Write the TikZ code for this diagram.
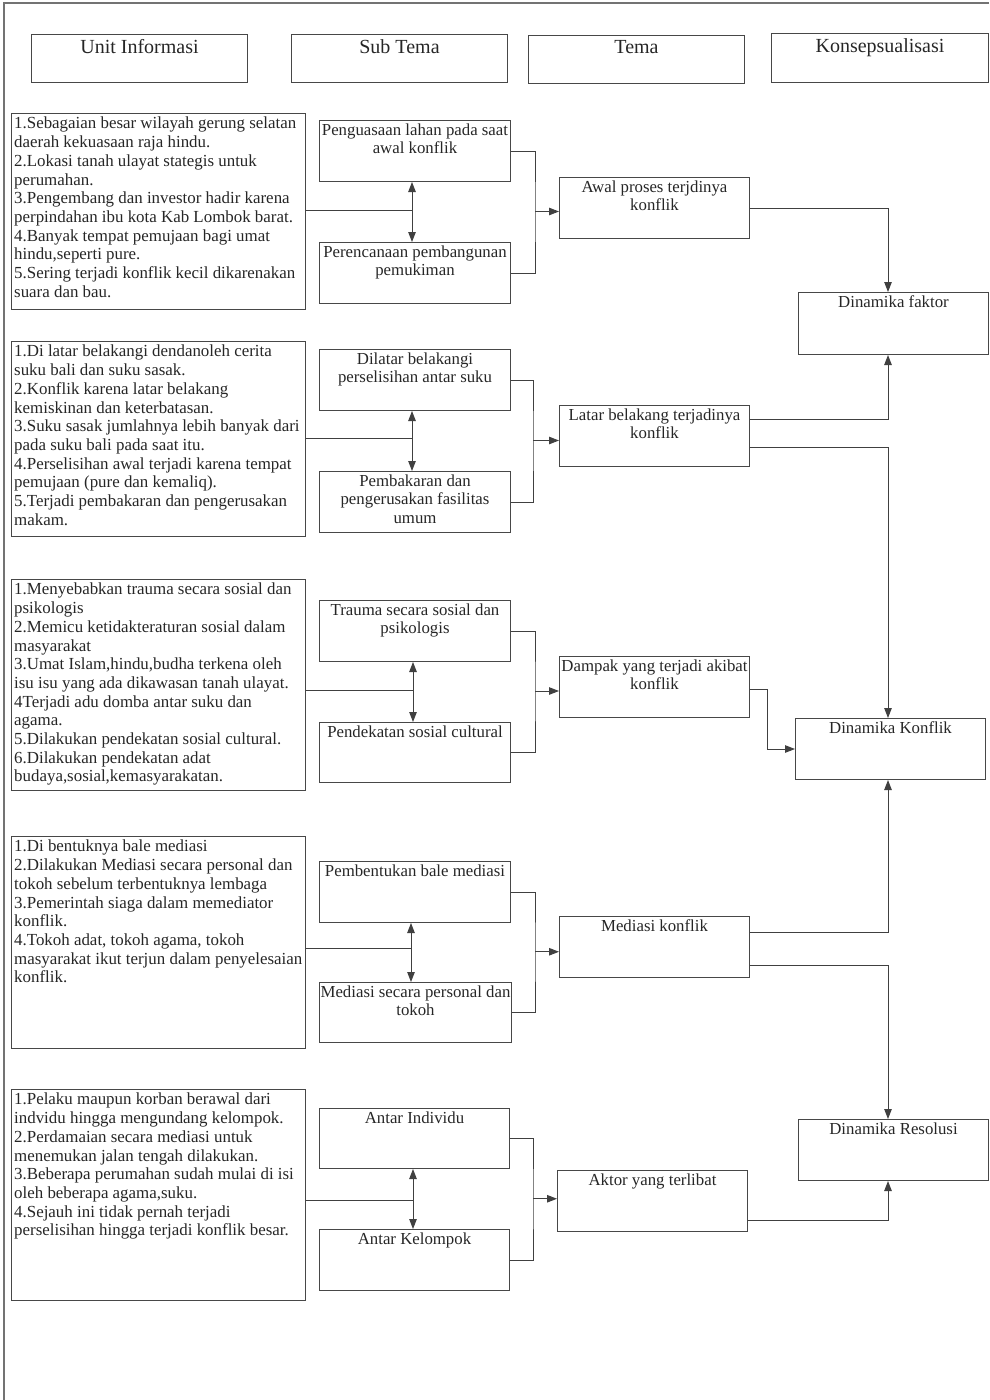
\documentclass[tikz,border=0pt]{standalone}
\usepackage{fontspec}
\setmainfont{Liberation Serif}
\usetikzlibrary{arrows.meta}
\begin{document}
\begin{tikzpicture}[x=1pt,y=-1pt,
  box/.style={draw=black!72, line width=1pt, rectangle, inner sep=0pt, anchor=north west},
  ctext/.style={anchor=north, align=center, inner xsep=2.5pt, inner ysep=3.5pt, text=black!85, font=\fontsize{16.8}{18.4}\selectfont},
  htext/.style={anchor=north, align=center, inner xsep=3.5pt, inner ysep=5pt, text=black!85, font=\fontsize{20}{22}\selectfont},
  ltext/.style={anchor=north west, align=left, inner xsep=3pt, inner ysep=4pt, text=black!85, font=\fontsize{16.9}{18.7}\selectfont},
  conn/.style={draw=black!75, line width=1pt},
  arr/.style={conn, -{Triangle[length=10pt,width=7.5pt]}},
  darr/.style={conn, {Triangle[length=10pt,width=7.5pt]}-{Triangle[length=10pt,width=7.5pt]}}
]
\useasboundingbox (0,0) rectangle (989,1400);
% outer frame
\draw[draw=black!55, line width=1.2pt] (989,3) -| (4,1400);

% headers
\node[box, minimum width=216, minimum height=48] (h1) at (31,34) {};
\node[box, minimum width=216, minimum height=48] (h2) at (291,34) {};
\node[box, minimum width=216, minimum height=48] (h3) at (528,35) {};
\node[box, minimum width=217, minimum height=49] (h4) at (771,33) {};
\node[htext] (h1t) at (h1.north) {Unit Informasi};
\node[htext] (h2t) at (h2.north) {Sub Tema};
\node[htext] (h3t) at (h3.north) {Tema};
\node[htext] (h4t) at (h4.north) {Konsepsualisasi};

% row 1
\node[box, minimum width=294, minimum height=196] (i1) at (11,113) {};
\node[box, minimum width=191, minimum height=61] (s11) at (319,120) {};
\node[box, minimum width=191, minimum height=61] (s12) at (319,242) {};
\node[box, minimum width=190, minimum height=61] (t1) at (559,177) {};
\node[box, minimum width=190, minimum height=62] (k1) at (798,292) {};
\node[ltext] (i1t) at (i1.north west) {1.Sebagaian besar wilayah gerung selatan\\daerah kekuasaan raja hindu.\\2.Lokasi tanah ulayat stategis untuk\\perumahan.\\3.Pengembang dan investor hadir karena\\perpindahan ibu kota Kab Lombok barat.\\4.Banyak tempat pemujaan bagi umat\\hindu,seperti pure.\\5.Sering terjadi konflik kecil dikarenakan\\suara dan bau.};
\node[ctext] (s11t) at (s11.north) {Penguasaan lahan pada saat\\awal konflik};
\node[ctext] (s12t) at (s12.north) {Perencanaan pembangunan\\pemukiman};
\node[ctext] (t1t) at (t1.north) {Awal proses terjdinya\\konflik};
\node[ctext] (k1t) at (k1.north) {Dinamika faktor};

% row 2
\node[box, minimum width=294, minimum height=195] (i2) at (11,341) {};
\node[box, minimum width=191, minimum height=61] (s21) at (319,349) {};
\node[box, minimum width=191, minimum height=61] (s22) at (319,471) {};
\node[box, minimum width=190, minimum height=61] (t2) at (559,405) {};
\node[ltext] (i2t) at (i2.north west) {1.Di latar belakangi dendanoleh cerita\\suku bali dan suku sasak.\\2.Konflik karena latar belakang\\kemiskinan dan keterbatasan.\\3.Suku sasak jumlahnya lebih banyak dari\\pada suku bali pada saat itu.\\4.Perselisihan awal terjadi karena tempat\\pemujaan (pure dan kemaliq).\\5.Terjadi pembakaran dan pengerusakan\\makam.};
\node[ctext] (s21t) at (s21.north) {Dilatar belakangi\\perselisihan antar suku};
\node[ctext] (s22t) at (s22.north) {Pembakaran dan\\pengerusakan fasilitas\\umum};
\node[ctext] (t2t) at (t2.north) {Latar belakang terjadinya\\konflik};

% row 3
\node[box, minimum width=294, minimum height=211] (i3) at (11,579) {};
\node[box, minimum width=191, minimum height=61] (s31) at (319,600) {};
\node[box, minimum width=191, minimum height=60] (s32) at (319,722) {};
\node[box, minimum width=190, minimum height=61] (t3) at (559,656) {};
\node[box, minimum width=190, minimum height=61] (k2) at (795,718) {};
\node[ltext] (i3t) at (i3.north west) {1.Menyebabkan trauma secara sosial dan\\psikologis\\2.Memicu ketidakteraturan sosial dalam\\masyarakat\\3.Umat Islam,hindu,budha terkena oleh\\isu isu yang ada dikawasan tanah ulayat.\\4Terjadi adu domba antar suku dan\\agama.\\5.Dilakukan pendekatan sosial cultural.\\6.Dilakukan pendekatan adat\\budaya,sosial,kemasyarakatan.};
\node[ctext] (s31t) at (s31.north) {Trauma secara sosial dan\\psikologis};
\node[ctext] (s32t) at (s32.north) {Pendekatan sosial cultural};
\node[ctext] (t3t) at (t3.north) {Dampak yang terjadi akibat\\konflik};
\node[ctext] (k2t) at (k2.north) {Dinamika Konflik};

% row 4
\node[box, minimum width=294, minimum height=212] (i4) at (11,836) {};
\node[box, minimum width=191, minimum height=61] (s41) at (319,861) {};
\node[box, minimum width=192, minimum height=60] (s42) at (319,982) {};
\node[box, minimum width=190, minimum height=61] (t4) at (559,916) {};
\node[box, minimum width=190, minimum height=61] (k3) at (798,1119) {};
\node[ltext] (i4t) at (i4.north west) {1.Di bentuknya bale mediasi\\2.Dilakukan Mediasi secara personal dan\\tokoh sebelum terbentuknya lembaga\\3.Pemerintah siaga dalam memediator\\konflik.\\4.Tokoh adat, tokoh agama, tokoh\\masyarakat ikut terjun dalam penyelesaian\\konflik.};
\node[ctext] (s41t) at (s41.north) {Pembentukan bale mediasi};
\node[ctext] (s42t) at (s42.north) {Mediasi secara personal dan\\tokoh};
\node[ctext] (t4t) at (t4.north) {Mediasi konflik};
\node[ctext] (k3t) at (k3.north) {Dinamika Resolusi};

% row 5
\node[box, minimum width=294, minimum height=211] (i5) at (11,1089) {};
\node[box, minimum width=190, minimum height=60] (s51) at (319,1108) {};
\node[box, minimum width=190, minimum height=61] (s52) at (319,1229) {};
\node[box, minimum width=190, minimum height=61] (t5) at (557,1170) {};
\node[ltext] (i5t) at (i5.north west) {1.Pelaku maupun korban berawal dari\\indvidu hingga mengundang kelompok.\\2.Perdamaian secara mediasi untuk\\menemukan jalan tengah dilakukan.\\3.Beberapa perumahan sudah mulai di isi\\oleh beberapa agama,suku.\\4.Sejauh ini tidak pernah terjadi\\perselisihan hingga terjadi konflik besar.};
\node[ctext] (s51t) at (s51.north) {Antar Individu};
\node[ctext] (s52t) at (s52.north) {Antar Kelompok};
\node[ctext] (t5t) at (t5.north) {Aktor yang terlibat};

% junction coordinates
\coordinate (a1) at (412,210);
\coordinate (a2) at (412,438);
\coordinate (a3) at (413,690);
\coordinate (a4) at (411,948);
\coordinate (a5) at (413,1200);
\coordinate (b1) at (535,211.5);
\coordinate (b2) at (533,440.5);
\coordinate (b3) at (535,691);
\coordinate (b4) at (535,951.75);
\coordinate (b5) at (533,1198.75);
\coordinate (col) at (888,0);

% info -> sub themes
\foreach \r in {1,...,5}{
  \draw[conn] (i\r.east |- a\r) -- (a\r);
  \draw[darr] (a\r |- s\r1.south) -- (a\r |- s\r2.north);
  \draw[conn] (s\r1.east) -| (b\r) |- (s\r2.east);
  \draw[arr] (b\r) -- (b\r -| t\r.west);
}

% themes -> concepts
\draw[arr] (t1.east) -| (col |- k1.north);
\draw[arr] ([yshift=16.5pt]t2.east) -| (col |- k1.south);
\draw[arr] ([yshift=-11.5pt]t2.east) -| (col |- k2.north);
\draw[arr] ([yshift=-2.5pt]t3.east) -- ++(17,0) |- (k2.west);
\draw[arr] ([yshift=14.5pt]t4.east) -| (col |- k2.south);
\draw[arr] ([yshift=-18.5pt]t4.east) -| (col |- k3.north);
\draw[arr] ([yshift=-19.5pt]t5.east) -| (col |- k3.south);
\end{tikzpicture}
\end{document}
